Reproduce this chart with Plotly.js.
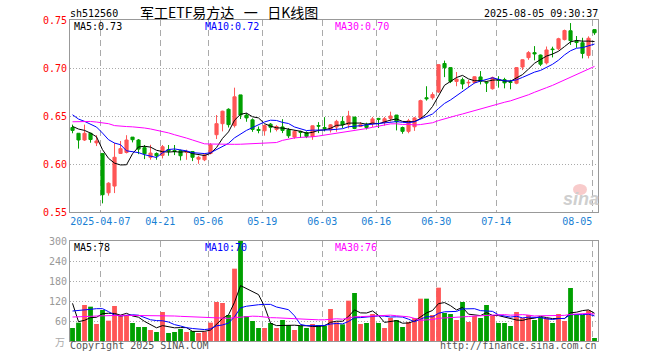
<!DOCTYPE html>
<html><head><meta charset="utf-8">
<script src="https://cdn.plot.ly/plotly-3.0.1.min.js"></script>
<style>html,body{margin:0;padding:0;background:#fff;}#chart{width:660px;height:360px;}</style>
</head><body><div id="chart"></div>
<script>
// ---- data ----
const dates = ['03-28','03-31','04-01','04-02','04-03','04-07','04-08','04-09','04-10','04-11',
'04-14','04-15','04-16','04-17','04-18','04-21','04-22','04-23','04-24','04-25',
'04-28','04-29','04-30','05-06','05-07','05-08','05-09','05-12','05-13','05-14',
'05-15','05-16','05-19','05-20','05-21','05-22','05-23','05-26','05-27','05-28',
'05-29','05-30','06-03','06-04','06-05','06-06','06-09','06-10','06-11','06-12',
'06-13','06-16','06-17','06-18','06-19','06-20','06-23','06-24','06-25','06-26',
'06-27','06-30','07-01','07-02','07-03','07-04','07-07','07-08','07-09','07-10',
'07-11','07-14','07-15','07-16','07-17','07-18','07-21','07-22','07-23','07-24',
'07-25','07-28','07-29','07-30','07-31','08-01','08-04','08-05'];
const openP = [0.638,0.632,0.625,0.632,0.622,0.611,0.570,0.577,0.611,0.612,
0.628,0.625,0.617,0.607,0.611,0.609,0.615,0.614,0.614,0.612,
0.613,0.605,0.6044,0.611,0.6305,0.642,0.657,0.640,0.672,0.651,
0.646,0.636,0.6346,0.6415,0.636,0.6386,0.6356,0.628,0.634,0.6327,
0.6287,0.640,0.638,0.6356,0.6385,0.6444,0.641,0.6489,0.639,0.6415,
0.642,0.6475,0.6433,0.6475,0.651,0.638,0.634,0.6388,0.648,0.669,
0.669,0.675,0.7047,0.7004,0.686,0.6878,0.6845,0.6849,0.6907,0.6852,
0.6784,0.6881,0.6879,0.6858,0.6841,0.701,0.7108,0.716,0.7135,0.7053,
0.7198,0.720,0.7296,0.7388,0.728,0.7263,0.7131,0.740];
const highP = [0.641,0.632,0.641,0.6325,0.630,0.611,0.581,0.622,0.624,0.630,
0.628,0.626,0.6198,0.620,0.6121,0.6198,0.6198,0.6198,0.6149,0.6149,
0.6135,0.6086,0.611,0.6217,0.651,0.6555,0.658,0.6795,0.672,0.653,
0.6475,0.639,0.641,0.6426,0.6405,0.6467,0.6374,0.6353,0.6346,0.634,
0.640,0.6436,0.6488,0.6415,0.646,0.6495,0.6554,0.6489,0.6436,0.643,
0.649,0.648,0.649,0.6545,0.651,0.639,0.647,0.649,0.667,0.681,
0.6747,0.7037,0.7077,0.7004,0.6958,0.690,0.6875,0.6912,0.6968,0.6862,
0.691,0.6915,0.6898,0.6877,0.701,0.7089,0.7176,0.7228,0.714,0.7224,
0.7222,0.7315,0.740,0.7468,0.7333,0.7315,0.733,0.740];
const lowP = [0.632,0.616,0.624,0.6222,0.6187,0.559,0.567,0.5697,0.6105,0.611,
0.6225,0.6103,0.6051,0.6044,0.6044,0.6058,0.6086,0.6093,0.6037,0.6044,
0.603,0.6002,0.603,0.610,0.626,0.634,0.638,0.638,0.6468,0.644,
0.6335,0.632,0.6295,0.6328,0.634,0.6322,0.627,0.6263,0.6271,0.627,
0.6252,0.6322,0.634,0.6328,0.6336,0.6374,0.637,0.6363,0.6385,0.636,
0.6385,0.6375,0.640,0.6443,0.635,0.6315,0.632,0.6345,0.6475,0.666,
0.667,0.674,0.6905,0.6843,0.681,0.678,0.680,0.6838,0.6829,0.675,
0.6775,0.6795,0.6788,0.6778,0.6831,0.6978,0.7085,0.708,0.702,0.7037,
0.711,0.7185,0.7287,0.724,0.721,0.710,0.710,0.7345];
const closeP = [0.635,0.625,0.632,0.6255,0.624,0.568,0.580,0.607,0.616,0.625,
0.6253,0.6155,0.6107,0.6114,0.6086,0.618,0.6134,0.613,0.6086,0.6122,
0.607,0.607,0.6094,0.620,0.642,0.655,0.641,0.670,0.651,0.648,
0.636,0.635,0.640,0.6383,0.639,0.635,0.6294,0.634,0.633,0.6287,
0.6398,0.6395,0.637,0.6408,0.6444,0.6409,0.650,0.637,0.641,0.638,
0.647,0.6465,0.6472,0.650,0.644,0.634,0.645,0.648,0.666,0.668,
0.6723,0.7035,0.7003,0.686,0.6884,0.6834,0.685,0.6909,0.6862,0.6845,
0.690,0.6872,0.6845,0.685,0.7004,0.7086,0.716,0.7147,0.704,0.7188,
0.7192,0.7305,0.739,0.7285,0.7265,0.7152,0.731,0.7367];
const volume = [39,55,108,103,51,93,61,105,78,78,
54,42,42,33,27,87,24,27,36,27,
30,24,28,55,117,114,78,217,305,75,
60,39,39,54,39,63,48,33,46,39,
51,48,46,96,56,50,121,144,51,54,
81,54,39,69,63,42,57,69,127,127,
78,160,84,81,63,117,57,75,69,108,
75,54,54,45,87,69,78,63,72,69,
54,81,60,159,78,78,92,9];
// moving-average values before enough in-window history exists
const ma5Head = [0.6392,0.6364,0.635,0.6322];
const ma10Head = [0.6513,0.6468,0.6444,0.6416,0.6385,0.6322,0.6253,0.6218,0.6201];
const ma30Head = [0.644,0.6443,0.6445,0.6443,0.6437,0.643,0.642,0.640,0.6393,0.639,
0.6387,0.6383,0.6375,0.6365,0.6352,0.634,0.6324,0.6305,0.629,0.627,
0.625,0.6228,0.621,0.6208,0.6206,0.6205,0.6205,0.6205,0.6206];
const volMa5Head = [113,58,62,70];
const volMa10Head = [90,91,93,95,97,97,88,78,75];
const volMa30Head = [72,72,73,74,75,76,76,77,77,77,77,77,77,77,77,76,75,75,74,73,72,71,70,69,69,68,68,70,72];
const tickDates = ['04-07','04-21','05-06','05-19','06-03','06-16','06-30','07-14','08-05'];
const tickLabels = ['2025-04-07','04-21','05-06','05-19','06-03','06-16','06-30','07-14','08-05\u00a0\u00a0\u00a0\u00a0\u00a0'];
const priceTicks = [0.55,0.60,0.65,0.70,0.75];
const volTicks = [60,120,180,240,300];

// ---- derived ----
const RED = '#ff5656', GREEN = '#00a000';
const idx = dates.map((d,i)=>i);
function movingAvg(src, n, head){
  return src.map((v,i)=>{
    if(i < n-1) return head[i];
    let s=0; for(let k=i-n+1;k<=i;k++) s+=src[k]; return s/n;
  });
}
const ma5 = movingAvg(closeP,5,ma5Head), ma10 = movingAvg(closeP,10,ma10Head), ma30 = movingAvg(closeP,30,ma30Head);
const vma5 = movingAvg(volume,5,volMa5Head), vma10 = movingAvg(volume,10,volMa10Head), vma30 = movingAvg(volume,30,volMa30Head);
const volColors = closeP.map((c,i)=> c>=openP[i] ? RED : GREEN);
const tickPos = tickDates.map(d => dates.indexOf(d) - 0.37);

const MONO = 'DejaVu Sans Mono';
function line(y, color, xa, ya){
  return {type:'scatter', mode:'lines', x: idx, y: y, xaxis: xa, yaxis: ya,
    line:{color: color, width: 1}, hoverinfo:'skip', showlegend:false};
}
const traces = [
  {type:'candlestick', x: idx, open: openP, high: highP, low: lowP, close: closeP,
   xaxis:'x', yaxis:'y', whiskerwidth: 0, hoverinfo:'skip', showlegend:false,
   increasing:{line:{color:RED,width:1}, fillcolor:RED},
   decreasing:{line:{color:GREEN,width:1}, fillcolor:GREEN}},
  line(ma5,'#000000','x','y'), line(ma10,'#0000ff','x','y'), line(ma30,'#ff00ff','x','y'),
  {type:'bar', x: idx, y: volume, xaxis:'x2', yaxis:'y2', width: 0.8,
   marker:{color: volColors, line:{width:0}}, hoverinfo:'skip', showlegend:false},
  line(vma5,'#000000','x2','y2'), line(vma10,'#0000ff','x2','y2'), line(vma30,'#ff00ff','x2','y2')
];

// pixel helpers for free text placement
const L=70, W=528, B=341, H=321;
const px = v => (v-L)/W, py = v => (B-v)/H;
function ann(text, x, y, xanchor, color, size, family, extra){
  return Object.assign({text: text, xref:'paper', yref:'paper', x:px(x), y:py(y),
    xanchor: xanchor, yanchor:'middle', showarrow:false, borderpad:0,
    font:{family: family||MONO, size: size||10, color: color}}, extra||{});
}
const NB = '\u00a0';
const annotations = [
  ann('sh512560', 69, 13, 'left', '#000'),
  ann('军工ETF易方达'+NB+NB+NB+'一'+NB+NB+NB+'日K线图', 229, 12, 'center', '#000', 14, 'Noto Sans CJK SC'),
  ann('2025-08-05 09:30:37', 599, 13, 'right', '#000'),
  ann('MA5:0.73', 73, 26, 'left', '#000'),
  ann('MA10:0.72', 204, 26, 'left', '#0000ff'),
  ann('MA30:0.70', 334, 26, 'left', '#ff00ff'),
  ann('MA5:78', 73, 247, 'left', '#000'),
  ann('MA10:70', 204, 247, 'left', '#0000ff'),
  ann('MA30:76', 334, 247, 'left', '#ff00ff'),
  ann('万', 66, 341, 'right', '#aaaaaa', 10, 'Noto Sans CJK SC'),
  ann('Copyright 2025 SINA.COM', 69, 346, 'left', '#555555'),
  ann('http://finance.sina.com.cn', 598, 346, 'right', '#555555'),
  ann('sina', 581, 199, 'center', '#cfcfcf', 18, 'Liberation Sans', {font:{family:'Liberation Sans', size:18, color:'#cfcfcf', weight:'bold', style:'italic'}})
];
const shapes = [
  {type:'circle', xref:'paper', yref:'paper', x0:px(573), x1:px(587), y0:py(195), y1:py(184),
   fillcolor:'rgba(240,140,140,0.45)', line:{width:0}, layer:'below'}
];

const gridX = {showgrid:true, gridcolor:'#aaaaaa', gridwidth:1, griddash:'6px,4px'};
const layout = {
  width:660, height:360, margin:{l:70, r:62, t:20, b:19, pad:0},
  paper_bgcolor:'#ffffff', plot_bgcolor:'#ffffff', showlegend:false,
  font:{family: MONO, size:10, color:'#000'},
  boxgap: 0.25,
  xaxis: Object.assign({domain:[0,1], anchor:'y', range:[-0.42, 87.58], type:'linear',
    tickmode:'array', tickvals: tickPos, ticktext: tickLabels, ticks:'',
    tickfont:{family:MONO, size:10, color:'#1a7fd4'}, showline:true, linecolor:'#999999',
    mirror:true, zeroline:false, rangeslider:{visible:false}, fixedrange:true}, gridX),
  yaxis: {domain:[(B-212)/H, 1], anchor:'x', range:[0.55,0.75], tickmode:'array',
    tickvals: priceTicks, ticktext: priceTicks.map(v=>v.toFixed(2)), ticks:'',
    tickfont:{family:MONO, size:10, color:'#ff0000'}, showgrid:true, gridcolor:'#aaaaaa',
    griddash:'1px,2px', showline:true, linecolor:'#999999', mirror:true, zeroline:false, fixedrange:true},
  xaxis2: Object.assign({domain:[0,1], anchor:'y2', range:[-0.42, 87.58], type:'linear',
    tickmode:'array', tickvals: tickPos, showticklabels:false, ticks:'',
    showline:true, linecolor:'#999999', mirror:true, zeroline:false, fixedrange:true}, gridX),
  yaxis2: {domain:[0,(B-241)/H], anchor:'x2', range:[0,300], tickmode:'array',
    tickvals: volTicks, ticktext: volTicks.map(String), ticks:'',
    tickfont:{family:MONO, size:10, color:'#999999'}, showgrid:true, gridcolor:'#aaaaaa',
    griddash:'1px,2px', showline:true, linecolor:'#999999', mirror:true, zeroline:false, fixedrange:true},
  annotations: annotations,
  shapes: shapes
};
Plotly.newPlot('chart', traces, layout, {displayModeBar:false, staticPlot:true});
</script>
</body></html>
